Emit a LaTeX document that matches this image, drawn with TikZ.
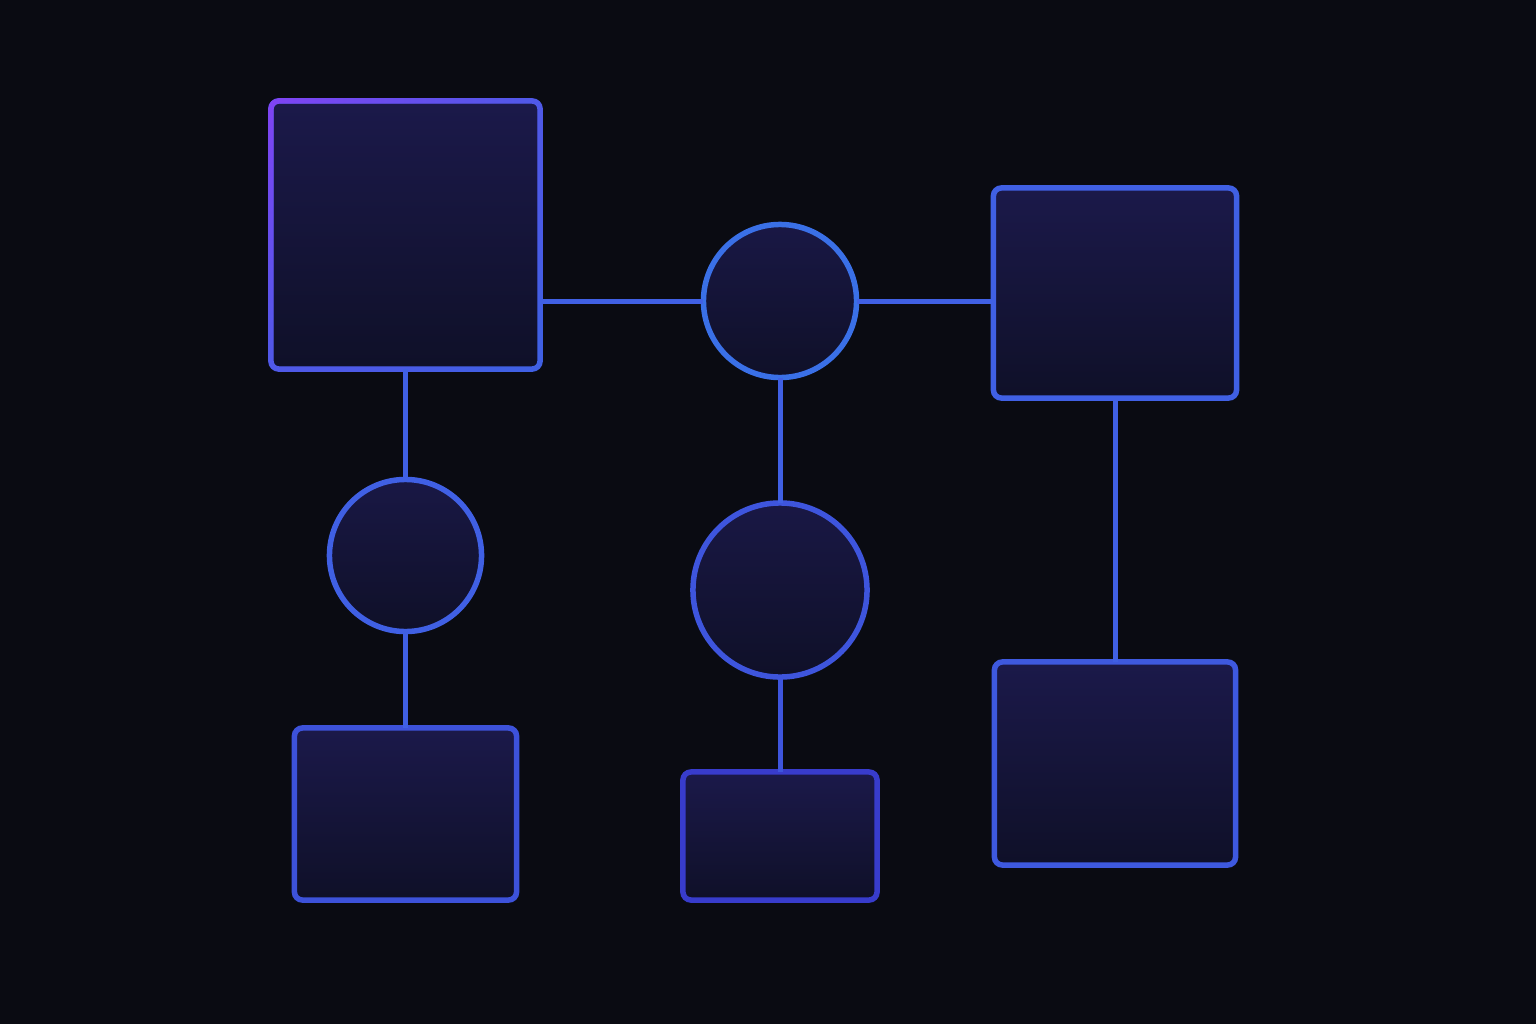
\documentclass[tikz,border=0pt]{standalone}
\usepackage{xcolor}
\definecolor{Back}{RGB}{10,11,18}
\definecolor{Col1}{RGB}{64,96,228}
\definecolor{Col2}{RGB}{128,68,244}
\definecolor{Col3}{RGB}{56,60,204}
\definecolor{Fill1}{RGB}{27,25,74}
\definecolor{Fill2}{RGB}{15,16,40}
\usepackage{tikz}
\usetikzlibrary{fadings}
\tikzfading[name=FadeTL,inner color=transparent!0,outer color=transparent!100]
\tikzstyle{Box}=[rectangle,rounded corners=0.08cm,draw=Col1,line width=0.055cm,
top color=Fill1,bottom color=Fill2,inner sep=0pt,outer sep=0pt]
\tikzstyle{Disc}=[circle,draw=Col1,line width=0.055cm,
top color=Fill1!85!Fill2,bottom color=Fill2,inner sep=0pt,outer sep=0pt]
\tikzstyle{Edge}=[draw=Col1,line width=0.05cm]

\begin{document}
\begin{tikzpicture}[x=.01cm,y=-.01cm]
        \fill[Back](0,0)rectangle(1536,1024);
        \useasboundingbox(0,0)rectangle(1536,1024);
        \node[Box,minimum width=2.69cm,minimum height=2.68cm](A)at(405.5,235){};
        \node[Disc,minimum size=1.53cm,draw=Col1!90!cyan](B)at(780,301){};
        \node[Box,minimum width=2.43cm,minimum height=2.10cm](C)at(1115,293){};
        \node[Disc,minimum size=1.52cm](D)at(405.5,555.5){};
        \node[Disc,minimum size=1.74cm,draw=Col1!70!Col3](E)at(780,590){};
        \node[Box,minimum width=2.22cm,minimum height=1.72cm,draw=Col1!60!Col3](F)at(405.5,814){};
        \node[Box,minimum width=1.94cm,minimum height=1.28cm,draw=Col3](G)at(780,836){};
        \node[Box,minimum width=2.41cm,minimum height=2.03cm,draw=Col1!80!Col3](H)at(1115,763.5){};
        \draw[Col2,line width=0.055cm,rounded corners=0.08cm,path fading=FadeTL,
            fit fading=false,fading transform={shift={(A.north west)},scale=4}]
            (A.south west)rectangle(A.north east);
        \draw[Edge](B.west)--(B.west-|A.east);
        \draw[Edge](B.east)--(B.east-|C.west);
        \draw[Edge](A.south)--(D.north);
        \draw[Edge](D.south)--(F.north);
        \draw[Edge](B.south)--(E.north);
        \draw[Edge,draw=Col1!70!Col3](E.south)--(G.north);
        \draw[Edge](C.south)--(H.north);
    \end{tikzpicture}
\end{document}
